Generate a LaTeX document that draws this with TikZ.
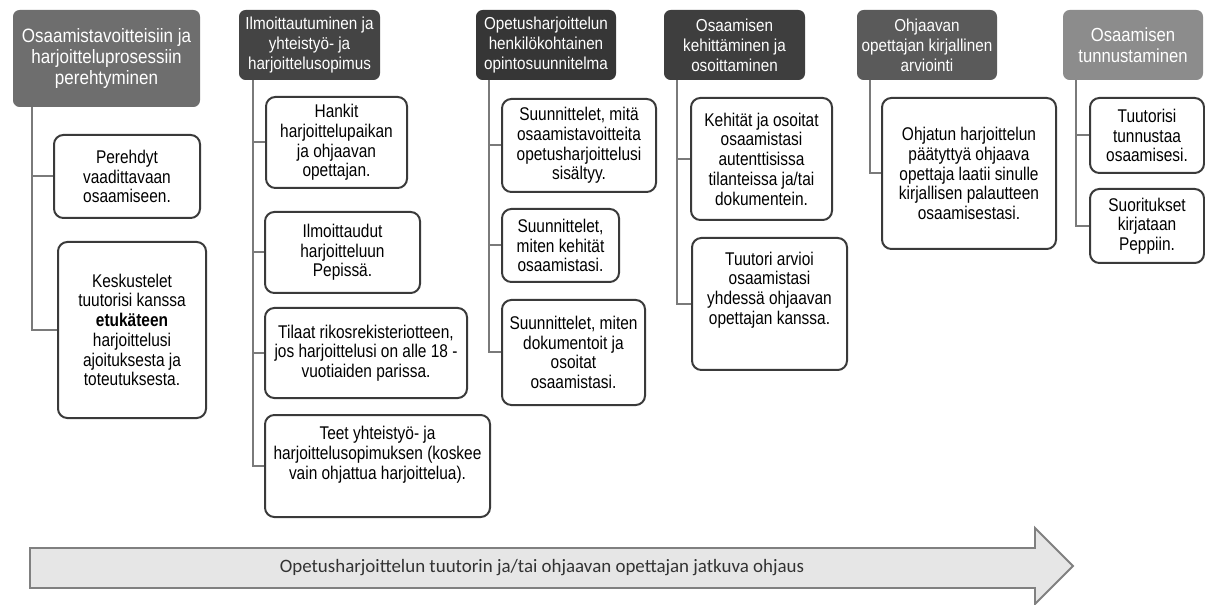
\documentclass[tikz,border=0pt]{standalone}
\usepackage{fontspec}
\setmainfont{Liberation Sans}
\newfontfamily\headfont[FakeStretch=0.88]{Liberation Sans}
\newfontfamily\taskfont[FakeStretch=0.84]{Liberation Sans}
\newfontfamily\flowfont{Carlito}
\usetikzlibrary{calc,positioning}
\usepackage{xcolor}
\definecolor{phaseA}{HTML}{6E6E6E}
\definecolor{phaseB}{HTML}{444444}
\definecolor{phaseC}{HTML}{363636}
\definecolor{phaseD}{HTML}{3E3E3E}
\definecolor{phaseE}{HTML}{5A5A5A}
\definecolor{phaseF}{HTML}{8C8C8C}
\definecolor{boxline}{HTML}{3A3A3A}
\definecolor{linkgray}{HTML}{7A7A7A}
\definecolor{flowfill}{HTML}{E6E6E6}
\definecolor{flowline}{HTML}{808080}

\begin{document}
\begin{tikzpicture}[x=0.75pt, y=-0.75pt]
        \tikzstyle{phase}=[rounded corners=5pt, text=white, align=center, inner sep=2pt, font=\headfont\fontsize{13}{15}\selectfont]
        \tikzstyle{task}=[draw=boxline, line width=1.5pt, rounded corners=7pt, fill=white, align=center, inner sep=2pt, font=\taskfont\fontsize{13.8}{14.8}\selectfont]
        \tikzstyle{link}=[draw=linkgray, line width=1.5pt]

        \useasboundingbox (0,0) rectangle (1205,605);

        % Phase headers
        \node[phase, fill=phaseA, minimum width=140.25pt, minimum height=72.75pt, font=\headfont\fontsize{14.5}{16}\selectfont] (h1) at (106.5,58.5) {Osaamistavoitteisiin ja\\harjoitteluprosessiin\\perehtyminen};
        \node[phase, fill=phaseB, minimum width=105.75pt, minimum height=52.5pt] (h2) at (309.5,45) {Ilmoittautuminen ja\\yhteistyö- ja\\harjoittelusopimus};
        \node[phase, fill=phaseC, minimum width=105pt, minimum height=52.5pt] (h3) at (546,45) {Opetusharjoittelun\\henkilökohtainen\\opintosuunnitelma};
        \node[phase, fill=phaseD, minimum width=105.75pt, minimum height=52.5pt] (h4) at (734.5,45) {Osaamisen\\kehittäminen ja\\osoittaminen};
        \node[phase, fill=phaseE, minimum width=105pt, minimum height=52.5pt] (h5) at (927,45) {Ohjaavan\\opettajan kirjallinen\\arviointi};
        \node[phase, fill=phaseF, minimum width=105pt, minimum height=52.5pt, font=\headfont\fontsize{14.2}{16}\selectfont] (h6) at (1133,45) {Osaamisen\\tunnustaminen};

        % Tasks of each phase
        \node[task, minimum width=109.5pt, minimum height=62.25pt] (t1a) at (127,176.5) {Perehdyt\\vaadittavaan\\osaamiseen.};
        \node[task, minimum width=111pt, minimum height=132pt] (t1b) at (132,330) {Keskustelet\\tuutorisi kanssa\\\textbf{etukäteen}\\harjoittelusi\\ajoituksesta ja\\toteutuksesta.};

        \node[task, minimum width=105.75pt, minimum height=68.25pt] (t2a) at (336.5,142.5) {Hankit\\harjoittelupaikan\\ja ohjaavan\\opettajan.};
        \node[task, minimum width=116.25pt, minimum height=60.75pt] (t2b) at (342.5,252.5) {Ilmoittaudut\\harjoitteluun\\Pepissä.};
        \node[task, minimum width=151.5pt, minimum height=67.5pt] (t2c) at (366,353) {Tilaat rikosrekisteriotteen,\\jos harjoittelusi on alle 18 -\\vuotiaiden parissa.};
        \node[task, minimum width=168.75pt, minimum height=76.5pt, text depth=20pt] (t2d) at (377.5,466) {Teet yhteistyö- ja\\harjoittelusopimuksen (koskee\\vain ohjattua harjoittelua).};

        \node[task, minimum width=115.5pt, minimum height=69.75pt] (t3a) at (579,145.5) {Suunnittelet, mitä\\osaamistavoitteita\\opetusharjoittelusi\\sisältyy.};
        \node[task, minimum width=87.75pt, minimum height=54.75pt] (t3b) at (560.5,245.5) {Suunnittelet,\\miten kehität\\osaamistasi.};
        \node[task, minimum width=107.25pt, minimum height=78.75pt] (t3c) at (573.5,352.5) {Suunnittelet, miten\\dokumentoit ja\\osoitat\\osaamistasi.};

        \node[task, minimum width=105.75pt, minimum height=91.5pt] (t4a) at (761.5,159) {Kehität ja osoitat\\osaamistasi\\autenttisissa\\tilanteissa ja/tai\\dokumentein.};
        \node[task, minimum width=116.25pt, minimum height=99pt, text depth=24pt] (t4b) at (769.5,304) {Tuutori arvioi\\osaamistasi\\yhdessä ohjaavan\\opettajan kanssa.};

        \node[task, minimum width=130.5pt, minimum height=113.25pt] (t5a) at (969,173.5) {Ohjatun harjoittelun\\päätyttyä ohjaava\\opettaja laatii sinulle\\kirjallisen palautteen\\osaamisestasi.};

        \node[task, minimum width=85.5pt, minimum height=56.25pt] (t6a) at (1147,135.5) {Tuutorisi\\tunnustaa\\osaamisesi.};
        \node[task, minimum width=85.5pt, minimum height=55.5pt] (t6b) at (1147,226) {Suoritukset\\kirjataan\\Peppiin.};

        % Connectors from header to tasks
        \draw[link] ($(h1.south west)+(19,0)$) |- (t1a.west);
        \draw[link] ($(h1.south west)+(19,0)$) |- (t1b.west);
        \foreach \t in {t2a,t2b,t2c,t2d}
            \draw[link] ($(h2.south west)+(14,0)$) |- (\t.west);
        \foreach \t in {t3a,t3b,t3c}
            \draw[link] ($(h3.south west)+(13,0)$) |- (\t.west);
        \draw[link] ($(h4.south west)+(13,0)$) |- (t4a.west);
        \draw[link] ($(h4.south west)+(13,0)$) |- (t4b.west);
        \draw[link] ($(h5.south west)+(13,0)$) |- (t5a.west);
        \draw[link] ($(h6.south west)+(13,0)$) |- (t6a.west);
        \draw[link] ($(h6.south west)+(13,0)$) |- (t6b.west);

        % Continuous guidance arrow
        \draw[draw=flowline, fill=flowfill, line width=1.4pt] (30,548) -- (1035,548) -- (1035,528) -- (1073,566) -- (1035,604) -- (1035,588) -- (30,588) -- cycle;
        \node[text=black!80, font=\flowfont\fontsize{14.2}{16}\selectfont] (flow) at (542,568) {Opetusharjoittelun tuutorin ja/tai ohjaavan opettajan jatkuva ohjaus};
    \end{tikzpicture}
\end{document}
